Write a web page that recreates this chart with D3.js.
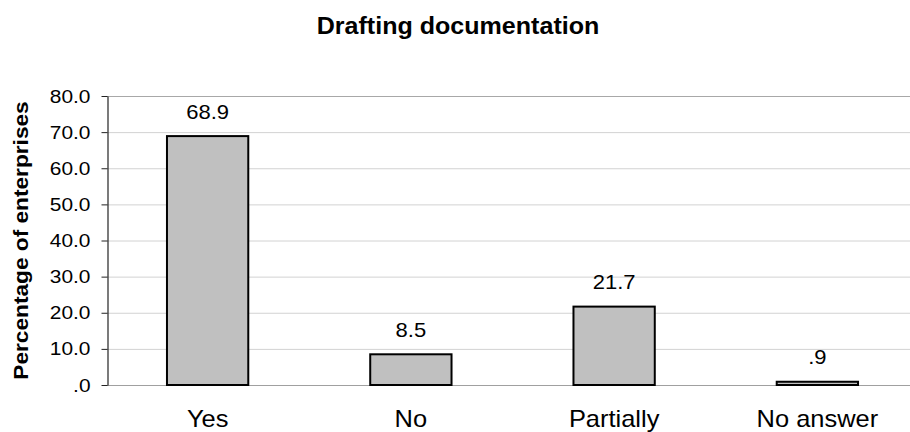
<!DOCTYPE html>
<html>
<head>
<meta charset="utf-8">
<script src="https://cdn.jsdelivr.net/npm/d3@7"></script>
<style>
  html, body { margin: 0; padding: 0; background: #fff; }
  svg { display: block; font-family: "Liberation Sans", Arial, sans-serif; }
</style>
</head>
<body>
<svg id="chart" width="910" height="432"></svg>
<script>
// Survey answers and percentage of enterprises
const categories = ["Yes", "No", "Partially", "No answer"];
const values = [68.9, 8.5, 21.7, 0.9];
const valueLabels = ["68.9", "8.5", "21.7", ".9"];
const yTicks = [0, 10, 20, 30, 40, 50, 60, 70, 80];
const yTickLabels = [".0", "10.0", "20.0", "30.0", "40.0", "50.0", "60.0", "70.0", "80.0"];

const svg = d3.select("#chart");
const plot = { left: 107, right: 919, top: 96, bottom: 385 };

const x = d3.scaleBand().domain(categories).range([plot.left - 1, plot.right]).padding(0);
const y = d3.scaleLinear().domain([0, 80]).range([plot.bottom, plot.top]);

// Horizontal gridlines
svg.append("g")
  .selectAll("line")
  .data(yTicks.filter(t => t > 0))
  .join("line")
  .attr("x1", plot.left).attr("x2", 910)
  .attr("y1", d => y(d) + 0.5).attr("y2", d => y(d) + 0.5)
  .attr("stroke", d => d === 80 ? "#a8a8a8" : "#d2d2d2")
  .attr("stroke-width", 1);

// Category baseline
svg.append("line")
  .attr("x1", plot.left).attr("x2", 910)
  .attr("y1", y(0) + 0.5).attr("y2", y(0) + 0.5)
  .attr("stroke", "#a0a0a0").attr("stroke-width", 1.2);

// Value axis
const yAxis = d3.axisLeft(y)
  .tickValues(yTicks)
  .tickSize(6)
  .tickSizeOuter(0)
  .tickFormat((d, i) => yTickLabels[i]);

const gy = svg.append("g")
  .attr("transform", `translate(${plot.left + 0.5},0)`)
  .call(yAxis);
gy.select(".domain").attr("stroke", "#222").attr("stroke-width", 1.2);
gy.selectAll(".tick line").attr("stroke", "#222");
gy.selectAll(".tick text")
  .attr("x", null)
  .attr("transform", "translate(-17,0) scale(1.1,1)")
  .attr("font-size", 19)
  .attr("fill", "#000")
  .attr("font-family", "Liberation Sans, Arial, sans-serif");

// Bars
const barW = x.bandwidth() * 0.4;
svg.append("g")
  .selectAll("rect")
  .data(values)
  .join("rect")
  .attr("x", (d, i) => x(categories[i]) + (x.bandwidth() - barW) / 2)
  .attr("y", d => y(d))
  .attr("width", barW)
  .attr("height", d => y(0) - y(d))
  .attr("fill", "#c0c0c0")
  .attr("stroke", "#000")
  .attr("stroke-width", 2);

// Value labels above bars
svg.append("g")
  .selectAll("text")
  .data(values)
  .join("text")
  .attr("transform", (d, i) =>
    `translate(${x(categories[i]) + x.bandwidth() / 2},${y(d) - 17.5}) scale(1.1,1)`)
  .attr("text-anchor", "middle")
  .attr("font-size", 20)
  .attr("fill", "#000")
  .text((d, i) => valueLabels[i]);

// Category labels
svg.append("g")
  .selectAll("text")
  .data(categories)
  .join("text")
  .attr("transform", d => `translate(${x(d) + x.bandwidth() / 2},427) scale(1.06,1)`)
  .attr("text-anchor", "middle")
  .attr("font-size", 24)
  .attr("fill", "#000")
  .text(d => d);

// Axis title
svg.append("text")
  .attr("transform", `translate(28,${(plot.top + plot.bottom) / 2}) rotate(-90) scale(1.08,1)`)
  .attr("text-anchor", "middle")
  .attr("font-size", 21)
  .attr("font-weight", "bold")
  .attr("fill", "#000")
  .text("Percentage of enterprises");

// Chart title
svg.append("text")
  .attr("transform", "translate(458,34) scale(1.09,1)")
  .attr("text-anchor", "middle")
  .attr("font-size", 23)
  .attr("font-weight", "bold")
  .attr("fill", "#000")
  .text("Drafting documentation");
</script>
</body>
</html>
